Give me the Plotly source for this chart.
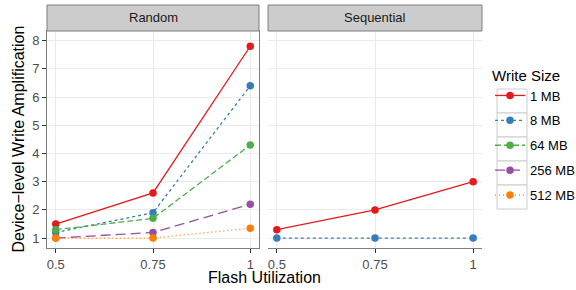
import plotly.graph_objects as go

x_vals = [0.5, 0.75, 1]
sizes = ["1 MB", "8 MB", "64 MB", "256 MB", "512 MB"]
colors = ["#E41A1C", "#377EB8", "#4DAF4A", "#984EA3", "#FF7F00"]
dashes = ["solid", "3px,3px", "6px,3px", "10px,5px", "1px,3px"]

random_vals = {
    "1 MB": [1.5, 2.6, 7.8],
    "8 MB": [1.2, 1.9, 6.4],
    "64 MB": [1.3, 1.7, 4.3],
    "256 MB": [1.0, 1.2, 2.2],
    "512 MB": [1.0, 1.0, 1.35],
}
sequential_vals = {
    "1 MB": [1.3, 2.0, 3.0],
    "8 MB": [1.0, 1.0, 1.0],
}
y_ticks = [1, 2, 3, 4, 5, 6, 7, 8]
x_ticks = [0.5, 0.75, 1]
x_ticklabels = ["0.5", "0.75", "1"]

FONT = "Liberation Sans, Arial, sans-serif"
fig = go.Figure()

for s, c, d in zip(sizes, colors, dashes):
    fig.add_trace(go.Scatter(
        x=x_vals, y=random_vals[s], mode="lines+markers", name=s,
        line=dict(color=c, width=1.3, dash=d), marker=dict(color=c, size=7.5),
        xaxis="x", yaxis="y", legendgroup=s, showlegend=True))
    if s in sequential_vals:
        fig.add_trace(go.Scatter(
            x=x_vals, y=sequential_vals[s], mode="lines+markers", name=s,
            line=dict(color=c, width=1.3, dash=d), marker=dict(color=c, size=7.5),
            xaxis="x2", yaxis="y", legendgroup=s, showlegend=False))

W, H = 576, 290
ml, mr, mt, mb = 47, 94, 5, 42
pw, ph = W - ml - mr, H - mt - mb
left_dom = [0, (259 - ml) / pw]
right_dom = [(268 - ml) / pw, 1]
ytop = (248 - 31) / ph


def px_x(p):
    return (p - ml) / pw


def px_y(p):
    return (H - mb - p) / ph


axis_common = dict(
    range=[0.4775, 1.0225], tickvals=x_ticks, ticktext=x_ticklabels,
    showgrid=True, gridcolor="#EBEBEB", gridwidth=1,
    ticks="outside", ticklen=4, tickcolor="#333333", tickwidth=1,
    tickfont=dict(family=FONT, size=13, color="#4D4D4D"),
    showline=True, linecolor="#7F7F7F", linewidth=1, mirror=True,
    zeroline=False, anchor="y", automargin=False)

fig.update_layout(
    template="none",
    width=W, height=H,
    margin=dict(l=ml, r=mr, t=mt, b=mb, autoexpand=False),
    paper_bgcolor="white", plot_bgcolor="white",
    xaxis=dict(domain=left_dom, **axis_common),
    xaxis2=dict(domain=right_dom, **axis_common),
    yaxis=dict(domain=[0, ytop], range=[0.65, 8.34], tickvals=y_ticks,
               showgrid=True, gridcolor="#EBEBEB", gridwidth=1,
               ticks="outside", ticklen=4, tickcolor="#333333", tickwidth=1,
               tickfont=dict(family=FONT, size=13, color="#4D4D4D"),
               showline=True, linecolor="#7F7F7F", linewidth=1, mirror=True,
               zeroline=False, automargin=False),
    legend=dict(
        x=px_x(490), xanchor="left", y=px_y(61), yanchor="top",
        title=dict(text="Write Size", font=dict(family=FONT, size=15, color="black")),
        font=dict(family=FONT, size=13, color="black"),
        tracegroupgap=5, itemwidth=30, bgcolor="rgba(0,0,0,0)"),
    showlegend=True,
)

# legend key boxes
for i in range(len(sizes)):
    fig.add_shape(type="rect", xref="paper", yref="paper", layer="below",
                  x0=px_x(497), x1=px_x(527), y0=px_y(89 + 24 * i), y1=px_y(113 + 24 * i),
                  fillcolor="white", line=dict(color="#CCCCCC", width=1))

# strips
for dom, label in [(left_dom, "Random"), (right_dom, "Sequential")]:
    fig.add_shape(type="rect", xref="paper", yref="paper",
                  x0=dom[0], x1=dom[1], y0=ytop, y1=1,
                  fillcolor="#CCCCCC", line=dict(color="#7F7F7F", width=1))
    fig.add_annotation(x=(dom[0] + dom[1]) / 2, y=(ytop + 1) / 2, xref="paper", yref="paper",
                       text=label, showarrow=False, xanchor="center", yanchor="middle",
                       font=dict(family=FONT, size=13, color="#1A1A1A"))

fig.add_annotation(x=px_x(264), y=px_y(277), xref="paper", yref="paper",
                   text="Flash Utilization", showarrow=False, xanchor="center", yanchor="middle",
                   font=dict(family=FONT, size=16, color="black"))
fig.add_annotation(x=px_x(18), y=ytop / 2, xref="paper", yref="paper",
                   text="Device\u2212level Write Amplification", showarrow=False, textangle=-90,
                   xanchor="center", yanchor="middle",
                   font=dict(family=FONT, size=16, color="black"))

fig.write_html("out.html", config={"displayModeBar": False},
               post_script="document.body.style.margin='0px';")
